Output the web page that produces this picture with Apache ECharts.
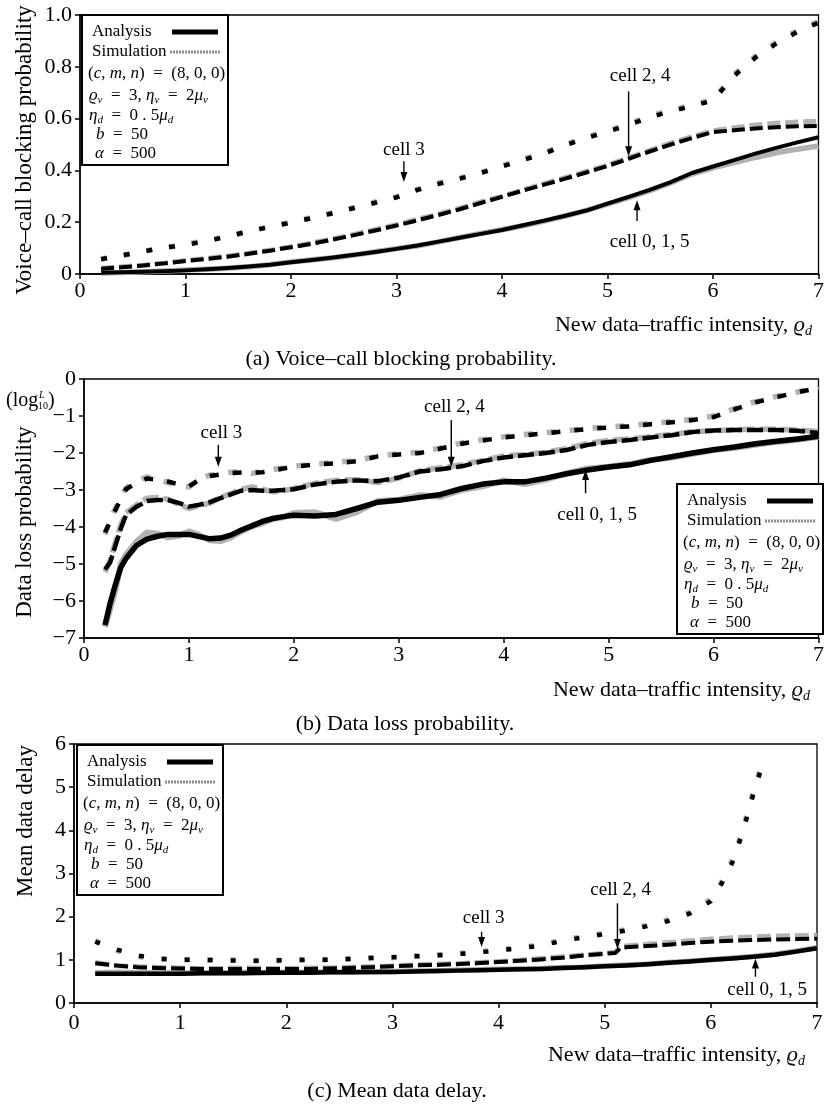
<!DOCTYPE html>
<html><head><meta charset="utf-8">
<script src="https://cdn.jsdelivr.net/npm/echarts@6/dist/echarts.min.js"></script>
<style>html,body{margin:0;padding:0;background:#fff}#c{width:827px;height:1104px}</style>
</head><body><div id="c"></div>
<script>
// ---------- DATA ----------
const X_TICKS = [0,1,2,3,4,5,6,7];
// Panel (a) Voice-call blocking probability
const X_A = [0.2,0.4,0.6,0.8,1.0,1.2,1.4,1.6,1.8,2.0,2.2,2.4,2.6,2.8,3.0,3.2,3.4,3.6,3.8,4.0,4.2,4.4,4.6,4.8,5.0,5.2,5.4,5.6,5.8,6.0,6.2,6.4,6.6,6.8,7.0];
const A_CELL015 = [0.005,0.007,0.009,0.011,0.014,0.018,0.023,0.029,0.036,0.045,0.054,0.064,0.074,0.085,0.097,0.11,0.125,0.14,0.155,0.17,0.188,0.206,0.225,0.245,0.272,0.298,0.325,0.355,0.39,0.415,0.44,0.465,0.487,0.508,0.528];
const A_SIM015 = [0.004,0.006,0.009,0.012,0.015,0.018,0.022,0.028,0.036,0.046,0.055,0.063,0.073,0.086,0.098,0.109,0.124,0.141,0.157,0.171,0.186,0.204,0.224,0.246,0.27,0.295,0.322,0.352,0.386,0.41,0.43,0.45,0.468,0.482,0.494];
const A_CELL24 = [0.02,0.026,0.033,0.041,0.05,0.058,0.067,0.078,0.09,0.103,0.117,0.133,0.15,0.168,0.187,0.207,0.228,0.25,0.274,0.298,0.322,0.345,0.368,0.392,0.417,0.445,0.473,0.5,0.525,0.548,0.555,0.562,0.567,0.57,0.572];
const A_SIM24 = [0.022,0.028,0.034,0.042,0.052,0.06,0.069,0.08,0.092,0.105,0.12,0.136,0.153,0.172,0.19,0.211,0.232,0.254,0.278,0.3,0.325,0.349,0.372,0.396,0.42,0.449,0.477,0.505,0.53,0.553,0.565,0.575,0.582,0.587,0.59];
const A_CELL3 = [0.057,0.072,0.087,0.102,0.113,0.127,0.145,0.165,0.182,0.198,0.216,0.235,0.255,0.275,0.296,0.325,0.348,0.368,0.39,0.415,0.44,0.465,0.497,0.525,0.55,0.575,0.605,0.628,0.648,0.67,0.765,0.835,0.89,0.935,0.97];
const A_SIM3 = [0.058,0.071,0.088,0.1,0.115,0.128,0.146,0.163,0.184,0.2,0.218,0.236,0.257,0.278,0.298,0.327,0.352,0.37,0.392,0.418,0.443,0.468,0.5,0.528,0.553,0.58,0.61,0.632,0.652,0.675,0.77,0.84,0.895,0.94,0.975];
const A_Y_TICKS = [0,0.2,0.4,0.6,0.8,1.0];

// Panel (b) Data loss probability (log10)
const X_B = [0.2,0.25,0.3,0.35,0.4,0.5,0.6,0.7,0.8,0.9,1.0,1.1,1.2,1.3,1.4,1.5,1.6,1.7,1.8,1.9,2.0,2.2,2.4,2.6,2.8,3.0,3.2,3.4,3.6,3.8,4.0,4.2,4.4,4.6,4.8,5.0,5.2,5.4,5.6,5.8,6.0,6.2,6.4,6.6,6.8,7.0];
const B_CELL015 = [-6.65,-6.05,-5.55,-5.1,-4.85,-4.5,-4.33,-4.25,-4.2,-4.2,-4.2,-4.26,-4.32,-4.3,-4.22,-4.08,-3.97,-3.85,-3.77,-3.72,-3.68,-3.7,-3.66,-3.5,-3.33,-3.28,-3.2,-3.12,-2.96,-2.84,-2.78,-2.78,-2.68,-2.56,-2.46,-2.38,-2.32,-2.2,-2.1,-2.0,-1.91,-1.84,-1.75,-1.68,-1.62,-1.55];
const B_SIM015 = [-6.7,-6.2,-5.7,-5.0,-4.75,-4.4,-4.15,-4.18,-4.28,-4.24,-4.12,-4.22,-4.36,-4.38,-4.28,-4.12,-3.98,-3.9,-3.78,-3.74,-3.62,-3.6,-3.78,-3.6,-3.3,-3.26,-3.14,-3.18,-3.0,-2.9,-2.74,-2.84,-2.72,-2.55,-2.42,-2.37,-2.3,-2.19,-2.12,-2.02,-1.92,-1.86,-1.78,-1.7,-1.64,-1.56];
const B_CELL24 = [-5.15,-4.95,-4.5,-4.05,-3.68,-3.45,-3.3,-3.27,-3.27,-3.35,-3.45,-3.4,-3.33,-3.22,-3.12,-3.02,-3.0,-3.02,-3.02,-3.0,-2.98,-2.85,-2.78,-2.74,-2.76,-2.66,-2.5,-2.44,-2.36,-2.22,-2.12,-2.06,-2.0,-1.92,-1.78,-1.7,-1.65,-1.58,-1.52,-1.43,-1.39,-1.38,-1.38,-1.38,-1.4,-1.46];
const B_SIM24 = [-5.22,-4.9,-4.4,-3.95,-3.62,-3.4,-3.22,-3.2,-3.25,-3.38,-3.5,-3.42,-3.35,-3.2,-3.1,-2.98,-2.92,-2.98,-3.05,-3.02,-2.96,-2.82,-2.74,-2.72,-2.8,-2.68,-2.48,-2.4,-2.32,-2.2,-2.08,-2.04,-1.98,-1.88,-1.74,-1.66,-1.62,-1.56,-1.5,-1.42,-1.4,-1.37,-1.36,-1.36,-1.38,-1.42];
const B_CELL3 = [-4.15,-3.85,-3.54,-3.25,-2.98,-2.8,-2.69,-2.72,-2.77,-2.85,-2.9,-2.72,-2.62,-2.58,-2.54,-2.53,-2.53,-2.52,-2.47,-2.42,-2.37,-2.31,-2.28,-2.22,-2.09,-2.04,-2.0,-1.88,-1.75,-1.66,-1.58,-1.52,-1.47,-1.41,-1.35,-1.31,-1.28,-1.22,-1.17,-1.11,-1.03,-0.82,-0.63,-0.49,-0.36,-0.24];
const B_SIM3 = [-4.2,-3.8,-3.5,-3.2,-2.95,-2.75,-2.65,-2.7,-2.8,-2.88,-2.92,-2.7,-2.6,-2.55,-2.52,-2.5,-2.55,-2.5,-2.45,-2.4,-2.36,-2.3,-2.25,-2.2,-2.08,-2.02,-1.98,-1.86,-1.73,-1.64,-1.56,-1.5,-1.45,-1.4,-1.33,-1.3,-1.26,-1.2,-1.15,-1.09,-1.0,-0.8,-0.61,-0.47,-0.35,-0.22];
const B_Y_TICKS = [-7,-6,-5,-4,-3,-2,-1,0];

// Panel (c) Mean data delay
const X_C = [0.2,0.4,0.6,0.8,1.0,1.2,1.4,1.6,1.8,2.0,2.2,2.4,2.6,2.8,3.0,3.2,3.4,3.6,3.8,4.0,4.2,4.4,4.6,4.8,5.0,5.2,5.4,5.6,5.8,6.0,6.2,6.4,6.6,6.8,7.0];
const C_CELL015 = [0.68,0.68,0.68,0.68,0.68,0.69,0.69,0.69,0.7,0.7,0.7,0.71,0.71,0.72,0.72,0.73,0.74,0.75,0.76,0.77,0.78,0.79,0.81,0.83,0.85,0.87,0.9,0.93,0.96,1.0,1.03,1.07,1.12,1.19,1.27];
const C_SIM015 = [0.7,0.71,0.7,0.7,0.69,0.7,0.7,0.71,0.7,0.71,0.71,0.72,0.72,0.72,0.73,0.74,0.74,0.76,0.77,0.78,0.79,0.8,0.82,0.83,0.86,0.88,0.9,0.94,0.97,1.0,1.04,1.08,1.13,1.2,1.28];
const X_C24 = [0.2,0.4,0.6,0.8,1.0,1.2,1.4,1.6,1.8,2.0,2.2,2.4,2.6,2.8,3.0,3.2,3.4,3.6,3.8,4.0,4.2,4.4,4.6,4.8,5.0,5.1,5.15,5.2,5.4,5.6,5.8,6.0,6.2,6.4,6.6,6.8,7.0];
const C_CELL24 = [0.92,0.87,0.83,0.81,0.8,0.79,0.79,0.79,0.79,0.79,0.79,0.8,0.81,0.83,0.85,0.87,0.88,0.9,0.92,0.95,0.98,1.01,1.05,1.1,1.14,1.16,1.28,1.29,1.32,1.35,1.39,1.42,1.44,1.46,1.47,1.48,1.49];
const C_SIM24 = [0.94,0.86,0.84,0.82,0.81,0.8,0.8,0.81,0.8,0.8,0.81,0.81,0.83,0.84,0.86,0.88,0.9,0.91,0.94,0.96,0.99,1.03,1.07,1.11,1.15,1.18,1.3,1.32,1.36,1.4,1.44,1.48,1.51,1.53,1.55,1.56,1.57];
const X_C3 = [0.2,0.4,0.6,0.8,1.0,1.2,1.4,1.6,1.8,2.0,2.2,2.4,2.6,2.8,3.0,3.2,3.4,3.6,3.8,4.0,4.2,4.4,4.6,4.8,5.0,5.2,5.4,5.6,5.8,6.0,6.1,6.2,6.3,6.4,6.5];
const C_CELL3 = [1.42,1.24,1.1,1.02,1.0,1.0,0.99,0.98,0.98,0.99,1.0,1.0,1.02,1.04,1.06,1.08,1.1,1.13,1.17,1.22,1.27,1.33,1.44,1.52,1.6,1.68,1.78,1.9,2.07,2.36,2.76,3.24,3.95,4.84,5.63];
const C_SIM3 = [1.44,1.22,1.08,1.03,1.01,0.99,1.0,0.99,0.97,1.0,1.01,1.0,1.03,1.05,1.05,1.09,1.11,1.14,1.18,1.23,1.28,1.35,1.46,1.53,1.62,1.7,1.8,1.93,2.1,2.4,2.8,3.3,4.0,4.9,5.68];
const C_Y_TICKS = [0,1,2,3,4,5,6];

// annotations: [panel, label, textX, textY, arrowX, arrowFromY, arrowToY]
const ANNOTATIONS = [
  [0,'cell 3',3.07,0.48,3.07,0.435,0.355],
  [0,'cell 2, 4',5.31,0.765,5.2,0.705,0.455],
  [0,'cell 0, 1, 5',5.4,0.125,5.28,0.205,0.285],
  [1,'cell 3',1.31,-1.47,1.28,-1.78,-2.37],
  [1,'cell 2, 4',3.53,-0.75,3.5,-1.11,-2.37],
  [1,'cell 0, 1, 5',4.89,-3.68,4.78,-3.09,-2.46],
  [2,'cell 3',3.86,1.96,3.84,1.65,1.3],
  [2,'cell 2, 4',5.15,2.62,5.12,2.31,1.25],
  [2,'cell 0, 1, 5',6.53,0.30,6.42,0.61,1.03]
];
const CAPTIONS = ['(a) Voice\u2013call blocking probability.','(b) Data loss probability.','(c) Mean data delay.'];
const Y_NAMES = ['Voice\u2013call blocking probability','Data loss probability','Mean data delay'];

// ---------- STYLE / LAYOUT ----------
const SERIF = '"Liberation Serif","DejaVu Serif",serif';
const GREY = '#b2b2b2';
const GRIDS = [
  {left:80, top:15, width:742, height:259},
  {left:84, top:379, width:743, height:259},
  {left:74, top:744, width:743, height:259}
];
const YRANGE = [[0,1,0.2],[-7,0,1],[0,6,1]];
const LABEL_MARGIN = [6,6,9];

function fmtY(gi, v){
  if (gi===0) return v===0 ? '0' : v.toFixed(1);
  if (v<0) return '\u2212'+(-v);
  return String(v);
}
const axisLineStyle = {color:'#000', width:1.5};
const xAxes = GRIDS.map((g,i)=>({
  type:'value', gridIndex:i, min:0, max:7, interval:1,
  axisLine:{show:true, onZero:false, lineStyle:axisLineStyle},
  axisTick:{show:true, inside:false, length:5, lineStyle:axisLineStyle},
  axisLabel:{fontFamily:SERIF, fontSize:22, color:'#000', margin:LABEL_MARGIN[i], showMaxLabel:true, showMinLabel:true},
  splitLine:{show:false}
}));
const yAxes = GRIDS.map((g,i)=>({
  type:'value', gridIndex:i, min:YRANGE[i][0], max:YRANGE[i][1], interval:YRANGE[i][2],
  axisLine:{show:true, onZero:false, lineStyle:axisLineStyle},
  axisTick:{show:true, inside:false, length:5, lineStyle:axisLineStyle},
  axisLabel:{fontFamily:SERIF, fontSize:22, color:'#000', margin:8, formatter:(v)=>fmtY(i,v)},
  splitLine:{show:false}
}));

function ln(gi, xs, ys, color, width, type, z){
  return {type:'line', xAxisIndex:gi, yAxisIndex:gi, data:xs.map((x,k)=>[x,ys[k]]),
    symbol:'none', showSymbol:false, silent:true, animation:false, z:z,
    lineStyle:{color:color, width:width, type:type, cap:'butt', join:'round'}};
}
const DOT_A=[6,17], DASH_A=[13,5];
const DOT_B=[9,14], DASH_B=[16,5];
const DOT_C=[5,18], DASH_C=[14,5];
const series = [
  // simulation (grey, under)
  ln(0,X_A,A_SIM015,GREY,5.5,'solid',2),
  ln(0,X_A,A_SIM24,GREY,5,DASH_A,2),
  ln(0,X_A,A_SIM3,GREY,5.5,DOT_A,2),
  ln(1,X_B,B_SIM015,GREY,6,'solid',2),
  ln(1,X_B,B_SIM24,GREY,5.5,DASH_B,2),
  ln(1,X_B,B_SIM3,GREY,5.5,DOT_B,2),
  ln(2,X_C,C_SIM015,GREY,5.5,'solid',2),
  ln(2,X_C24,C_SIM24,GREY,5,DASH_C,2),
  ln(2,X_C3,C_SIM3,GREY,5.5,DOT_C,2),
  // analysis (black, on top)
  ln(0,X_A,A_CELL015,'#000',4,'solid',3),
  ln(0,X_A,A_CELL24,'#000',4,DASH_A,3),
  ln(0,X_A,A_CELL3,'#000',4.5,DOT_A,3),
  ln(1,X_B,B_CELL015,'#000',5.5,'solid',3),
  ln(1,X_B,B_CELL24,'#000',4.5,DASH_B,3),
  ln(1,X_B,B_CELL3,'#000',4.5,DOT_B,3),
  ln(2,X_C,C_CELL015,'#000',4.5,'solid',3),
  ln(2,X_C24,C_CELL24,'#000',4,DASH_C,3),
  ln(2,X_C3,C_CELL3,'#000',4.5,DOT_C,3)
];

const option = {
  backgroundColor:'#fff',
  animation:false,
  grid: GRIDS.map(g=>Object.assign({show:true, borderColor:'#000', borderWidth:1.3, backgroundColor:'transparent', containLabel:false}, g)),
  xAxis: xAxes, yAxis: yAxes, series: series
};

const chart = echarts.init(document.getElementById('c'), null, {renderer:'canvas'});
chart.setOption(option);

// ---------- GRAPHIC (text, legends, annotations) ----------
const RICH = {
  n:{fontFamily:SERIF, fontSize:17, lineHeight:20, fill:'#000'},
  i:{fontFamily:SERIF, fontSize:17, fontStyle:'italic', lineHeight:20, fill:'#000'},
  s:{fontFamily:SERIF, fontSize:11, fontStyle:'italic', lineHeight:12, padding:[8,0,0,0], fill:'#000'}
};
const RICH_BIG = {
  n:{fontFamily:SERIF, fontSize:22, lineHeight:26, fill:'#000'},
  i:{fontFamily:SERIF, fontSize:22, fontStyle:'italic', lineHeight:26, fill:'#000'},
  s:{fontFamily:SERIF, fontSize:14, fontStyle:'italic', lineHeight:14, padding:[12,0,0,0], fill:'#000'}
};
function rtext(x,y,t,rich,align){
  return {type:'text', x:x, y:y, silent:true, z:50, style:{text:t, rich:rich, textAlign:align||'left', textVerticalAlign:'middle'}};
}
const EQ = '\u2002=\u2002';
function legend(x0,y0){
  const els = [];
  els.push({type:'rect', shape:{x:x0, y:y0, width:146, height:150}, style:{fill:'#fff', stroke:'#000', lineWidth:2}, z:40, silent:true});
  const rows = [17,37,59,81,101,120,139];
  els.push(rtext(x0+10,y0+rows[0],'{n|Analysis}',RICH));
  els.push({type:'line', shape:{x1:x0+90, y1:y0+rows[0], x2:x0+136, y2:y0+rows[0]}, style:{stroke:'#000', lineWidth:5}, z:50, silent:true});
  els.push(rtext(x0+10,y0+rows[1],'{n|Simulation}',RICH));
  els.push({type:'line', shape:{x1:x0+88, y1:y0+rows[1], x2:x0+138, y2:y0+rows[1]}, style:{stroke:'#8c8c8c', lineWidth:3, lineDash:[2,1]}, z:50, silent:true});
  els.push(rtext(x0+6,y0+rows[2],'{n|(}{i|c}{n|, }{i|m}{n|, }{i|n}{n|)'+EQ+'(8, 0, 0)}',RICH));
  els.push(rtext(x0+7,y0+rows[3],'{i|\u03F1}{s|v}{n|'+EQ+'3, }{i|\u03B7}{s|v}{n|'+EQ+'2}{i|\u03BC}{s|v}',RICH));
  els.push(rtext(x0+7,y0+rows[4],'{i|\u03B7}{s|d}{n|'+EQ+'0 . 5}{i|\u03BC}{s|d}',RICH));
  els.push(rtext(x0+14,y0+rows[5],'{i|b}{n|'+EQ+'50}',RICH));
  els.push(rtext(x0+13,y0+rows[6],'{i|\u03B1}{n|'+EQ+'500}',RICH));
  return els;
}
const G = [];
// legends
G.push(...legend(82,15));
G.push(...legend(677,484));
G.push(...legend(77,745));
// x-axis names
const XNAME = '{n|New data\u2013traffic intensity, }{i|\u03F1}{s|d}';
G.push(rtext(812,325,XNAME,RICH_BIG,'right'));
G.push(rtext(810,690,XNAME,RICH_BIG,'right'));
G.push(rtext(805,1055,XNAME,RICH_BIG,'right'));
// captions
const CAP_POS = [[401,359],[405,724],[397,1091]];
CAPTIONS.forEach((t,i)=>G.push({type:'text', x:CAP_POS[i][0], y:CAP_POS[i][1], silent:true, z:50,
  style:{text:t, fontFamily:SERIF, fontSize:22, fill:'#000', textAlign:'center', textVerticalAlign:'middle'}}));
// y names (rotated)
const YN_POS = [[25,150],[25,522],[26,821]];
Y_NAMES.forEach((t,i)=>G.push({type:'text', x:YN_POS[i][0], y:YN_POS[i][1], rotation:Math.PI/2, silent:true, z:50,
  style:{text:t, fontFamily:SERIF, fontSize:23, fill:'#000', textAlign:'center', textVerticalAlign:'middle'}}));
// (log^L_10)
G.push({type:'text', x:6, y:401, silent:true, z:50, style:{text:'(log', fontFamily:SERIF, fontSize:20, fill:'#000', textAlign:'left', textVerticalAlign:'middle'}});
G.push({type:'text', x:39, y:395, silent:true, z:50, style:{text:'L', fontFamily:SERIF, fontStyle:'italic', fontSize:10, fill:'#000', textAlign:'left', textVerticalAlign:'middle'}});
G.push({type:'text', x:38, y:406, silent:true, z:50, style:{text:'10', fontFamily:SERIF, fontSize:10, fill:'#000', textAlign:'left', textVerticalAlign:'middle'}});
G.push({type:'text', x:48, y:401, silent:true, z:50, style:{text:')', fontFamily:SERIF, fontSize:20, fill:'#000', textAlign:'left', textVerticalAlign:'middle'}});
// annotations placed through the chart's own scales
ANNOTATIONS.forEach(a=>{
  const gi=a[0];
  const tp = chart.convertToPixel({gridIndex:gi},[a[2],a[3]]);
  const p0 = chart.convertToPixel({gridIndex:gi},[a[4],a[5]]);
  const p1 = chart.convertToPixel({gridIndex:gi},[a[4],a[6]]);
  G.push({type:'text', x:tp[0], y:tp[1], silent:true, z:50, style:{text:a[1], fontFamily:SERIF, fontSize:19, fill:'#000', textAlign:'center', textVerticalAlign:'middle'}});
  const dir = p1[1] > p0[1] ? 1 : -1;
  G.push({type:'line', silent:true, z:50, shape:{x1:p0[0], y1:p0[1], x2:p1[0], y2:p1[1]-dir*6}, style:{stroke:'#000', lineWidth:1.4}});
  G.push({type:'polygon', silent:true, z:50, shape:{points:[[p1[0]-3.5,p1[1]-dir*10],[p1[0]+3.5,p1[1]-dir*10],[p1[0],p1[1]]]}, style:{fill:'#000'}});
});
chart.setOption({graphic:{elements:G}});
</script></body></html>
